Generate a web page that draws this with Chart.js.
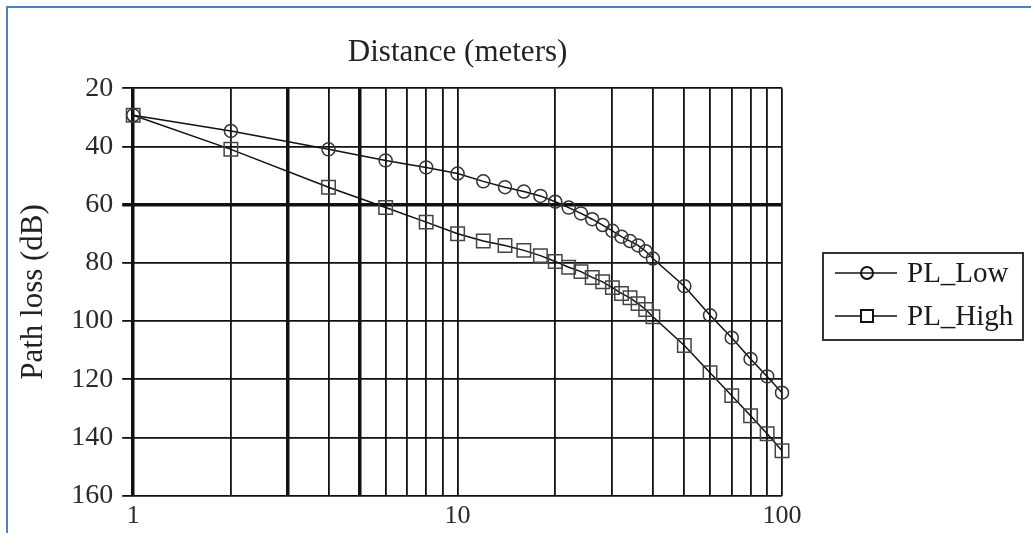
<!DOCTYPE html>
<html>
<head>
<meta charset="utf-8">
<title>Path loss x Distance</title>
<script src="https://cdn.jsdelivr.net/npm/chart.js@4.4.1/dist/chart.umd.min.js"></script>
<style>
  body { margin: 0; overflow: hidden; background: #fff; }
  #caixa { position: relative; width: 1031px; height: 533px; }
  #moldura {
    position: absolute; left: 6px; top: 6px; width: 1100px; height: 600px;
    border-top: 2px solid #4f81bd; border-left: 2px solid #4f81bd;
    pointer-events: none;
  }
</style>
</head>
<body>
<div id="caixa">
  <canvas id="graficoPerda"></canvas>
  <div id="moldura"></div>
</div>
<script>
// Distancias (metros) dos pontos medidos
var distancias = [1, 2, 4, 6, 8, 10, 12, 14, 16, 18, 20, 22, 24, 26, 28, 30, 32, 34, 36, 38, 40, 50, 60, 70, 80, 90, 100];

// Perda de caminho (dB)
var plLow = [29.3, 34.7, 41, 44.8, 47.2, 49.3, 52, 54, 55.5, 57, 59, 61, 63, 65, 67, 69, 71, 72.5, 74, 76, 78.5, 88, 98, 105.7, 113, 119, 124.6];
var plHigh = [29.3, 41, 54, 61, 66, 70, 72.5, 74, 75.7, 77.5, 79.5, 81.5, 83, 85, 86.5, 88.5, 90.5, 92, 94, 96, 98.5, 108.4, 117.7, 125.6, 132.5, 138.7, 144.5];

// Linhas de grade e rotulos
var gradeX = [1, 2, 3, 4, 5, 6, 7, 8, 9, 10, 20, 30, 40, 50, 60, 70, 80, 90, 100];
var rotulosX = [1, 10, 100];
var gradeXGrossa = [1, 3, 5];
var gradeYGrossa = [60];

var fonte = '"Liberation Serif", "Times New Roman", serif';

function pontos(ys) {
  return distancias.map(function (d, i) { return { x: d, y: ys[i] }; });
}

// Legenda com caixa, desenhada depois do grafico
var legendaCaixa = {
  id: 'legendaCaixa',
  afterDraw: function (chart) {
    var ctx = chart.ctx;
    var area = chart.chartArea;
    var x0 = area.right + 41;
    var y0 = (area.top + area.bottom) / 2 - 39;
    ctx.save();
    ctx.strokeStyle = '#333';
    ctx.lineWidth = 2;
    ctx.strokeRect(x0, y0, 200, 87);
    chart.data.datasets.forEach(function (ds, i) {
      var cy = y0 + 20 + i * 43;
      ctx.strokeStyle = '#111';
      ctx.lineWidth = 1.5;
      ctx.beginPath();
      ctx.moveTo(x0 + 12, cy);
      ctx.lineTo(x0 + 74, cy);
      ctx.stroke();
      ctx.lineWidth = 2;
      if (ds.pointStyle === 'circle') {
        ctx.beginPath();
        ctx.arc(x0 + 44, cy, 6, 0, Math.PI * 2);
        ctx.stroke();
      } else {
        ctx.fillStyle = '#fff';
        ctx.fillRect(x0 + 38, cy - 6, 12, 12);
        ctx.strokeRect(x0 + 38, cy - 6, 12, 12);
      }
      ctx.fillStyle = '#1a1a1a';
      ctx.font = '29px ' + fonte;
      ctx.textBaseline = 'middle';
      ctx.textAlign = 'left';
      ctx.fillText(ds.label, x0 + 84, cy + 1);
    });
    ctx.restore();
  }
};

var ctx = document.getElementById('graficoPerda').getContext('2d');

new Chart(ctx, {
  type: 'line',
  data: {
    datasets: [{
      label: 'PL_Low',
      data: pontos(plLow),
      borderColor: '#111',
      borderWidth: 1.5,
      pointStyle: 'circle',
      pointRadius: 6.5,
      pointBorderWidth: 1.5,
      pointBorderColor: '#333',
      pointBackgroundColor: 'rgba(255,255,255,0)',
      clip: false,
      tension: 0
    },
    {
      label: 'PL_High',
      data: pontos(plHigh),
      borderColor: '#111',
      borderWidth: 1.5,
      pointStyle: 'rect',
      pointRadius: 9.5,
      pointBorderWidth: 1.5,
      pointBorderColor: '#444',
      pointBackgroundColor: 'rgba(255,255,255,0)',
      clip: false,
      tension: 0
    }]
  },
  options: {
    responsive: true,
    maintainAspectRatio: false,
    animation: false,
    layout: {
      padding: { left: 0, right: 249, top: 0, bottom: -4 }
    },
    plugins: {
      legend: { display: false },
      tooltip: { enabled: false },
      title: {
        display: true,
        text: 'Distance (meters)',
        fullSize: false,
        color: '#222',
        font: { family: fonte, size: 31, weight: 'normal' },
        padding: { top: 34, bottom: 17 }
      }
    },
    scales: {
      x: {
        type: 'logarithmic',
        min: 1,
        max: 100,
        afterBuildTicks: function (scale) {
          scale.ticks = gradeX.map(function (v) { return { value: v }; });
        },
        ticks: {
          autoSkip: false,
          maxRotation: 0,
          minRotation: 0,
          padding: 5,
          color: '#2a2a2a',
          font: { family: fonte, size: 26 },
          callback: function (value) {
            return rotulosX.indexOf(value) >= 0 ? String(value) : '';
          }
        },
        grid: {
          color: '#111',
          drawTicks: false,
          lineWidth: function (c) {
            return c.tick && gradeXGrossa.indexOf(c.tick.value) >= 0 ? 3.5 : 1.8;
          }
        },
        border: { display: false }
      },
      y: {
        reverse: true,
        min: 20,
        max: 160,
        ticks: {
          stepSize: 20,
          padding: 9,
          color: '#2a2a2a',
          font: { family: fonte, size: 28 }
        },
        grid: {
          color: '#111',
          tickLength: 11,
          lineWidth: function (c) {
            return c.tick && gradeYGrossa.indexOf(c.tick.value) >= 0 ? 3.5 : 1.8;
          }
        },
        border: { display: false },
        title: {
          display: true,
          text: 'Path loss (dB)',
          color: '#222',
          font: { family: fonte, size: 31 },
          padding: { top: 15, bottom: 10 }
        }
      }
    }
  },
  plugins: [legendaCaixa]
});
</script>
</body>
</html>
